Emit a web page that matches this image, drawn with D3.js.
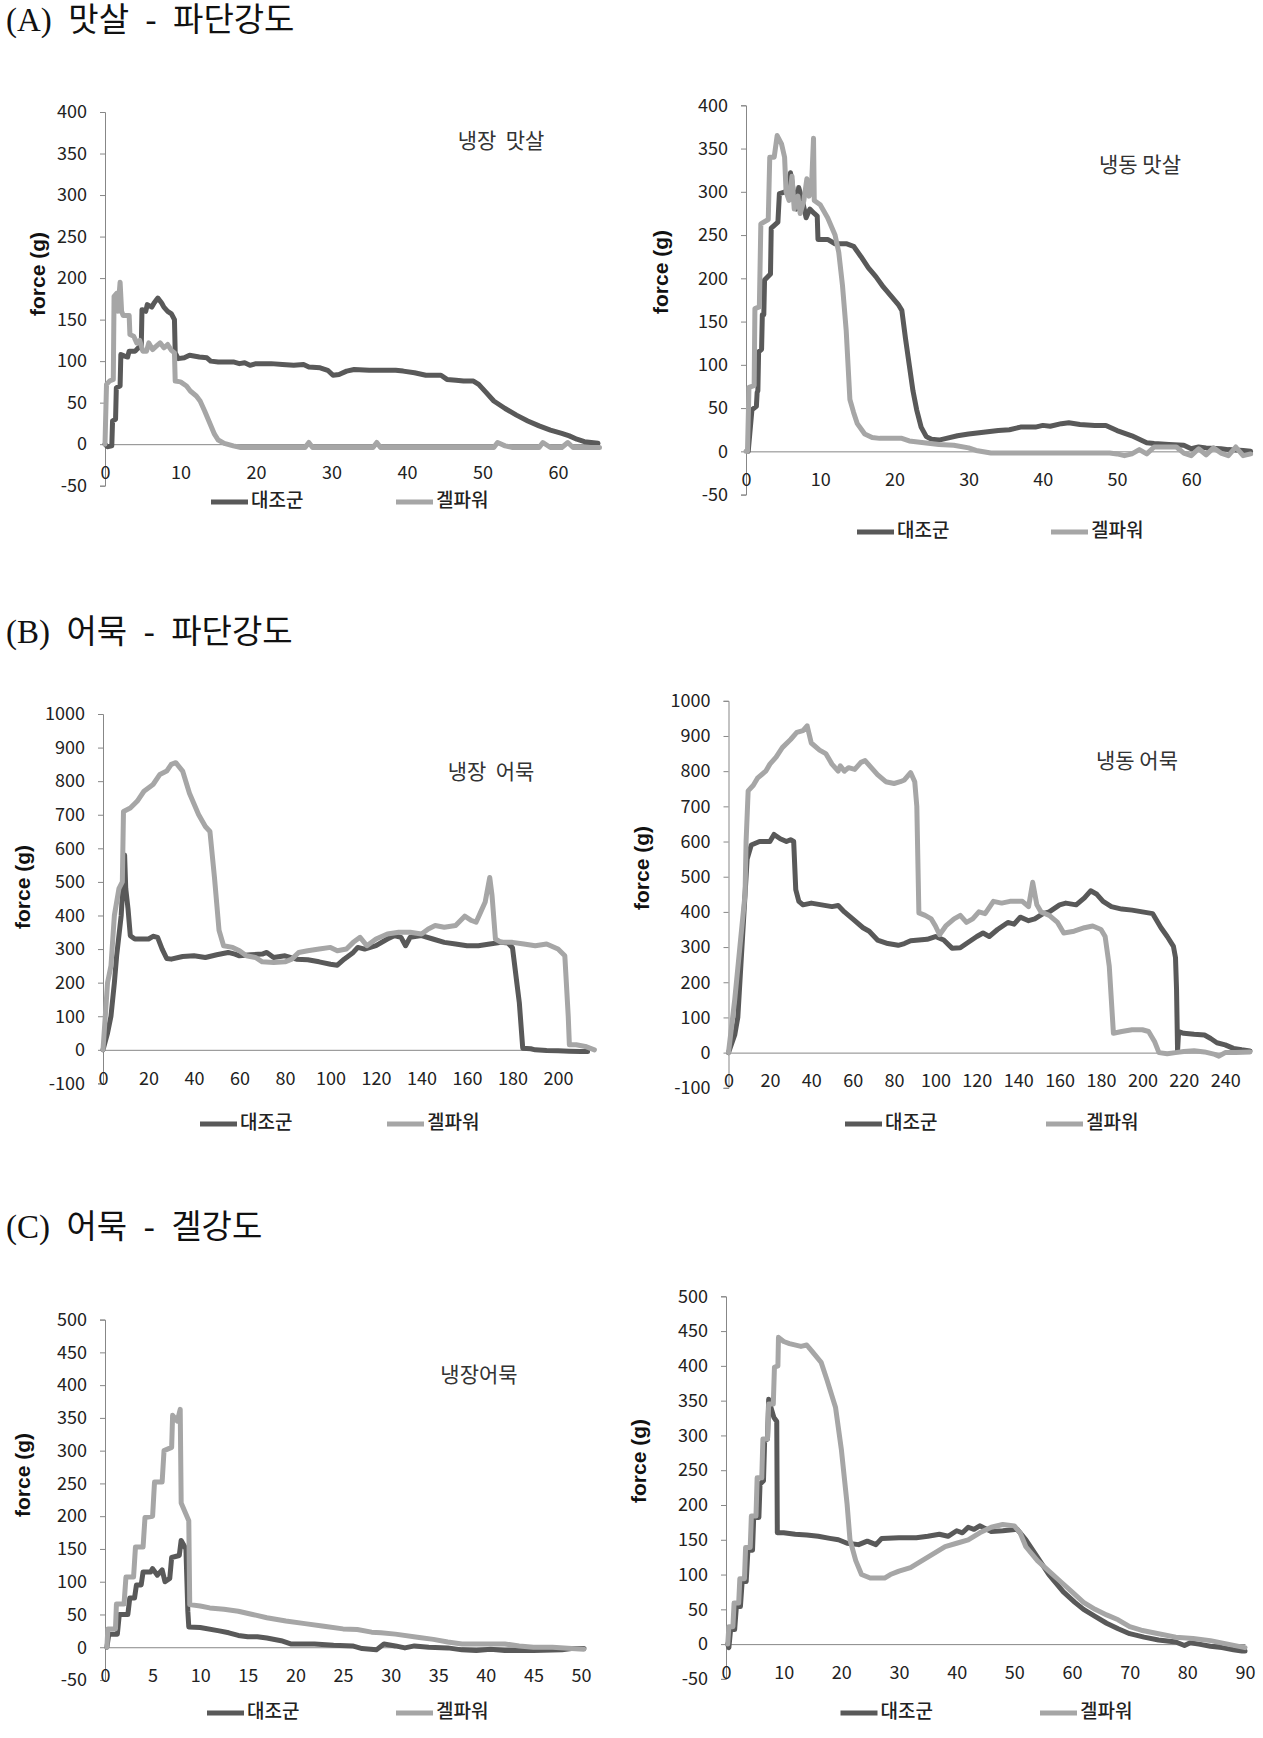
<!DOCTYPE html>
<html><head><meta charset="utf-8">
<script src="https://cdn.jsdelivr.net/npm/d3@7"></script>
<style>body{margin:0;background:#fff}</style>
</head><body>
<svg id="c" width="1263" height="1738"></svg>
<script>
const seriesNames = ["대조군", "겔파워"];
const seriesColors = ["#595959", "#a6a6a6"];
const titles = ["(A)  맛살  -  파단강도", "(B)  어묵  -  파단강도", "(C)  어묵  -  겔강도"];
const notes = ["냉장  맛살", "냉동 맛살", "냉장  어묵", "냉동 어묵", "냉장어묵", ""];
const yLabel = "force (g)";

const yTicksA = [-50, 0, 50, 100, 150, 200, 250, 300, 350, 400];
const yTicksB = [-100, 0, 100, 200, 300, 400, 500, 600, 700, 800, 900, 1000];
const yTicksC = [-50, 0, 50, 100, 150, 200, 250, 300, 350, 400, 450, 500];
const xTicksA = [0, 10, 20, 30, 40, 50, 60];
const xTicksBL = [0, 20, 40, 60, 80, 100, 120, 140, 160, 180, 200];
const xTicksBR = [0, 20, 40, 60, 80, 100, 120, 140, 160, 180, 200, 220, 240];
const xTicksCL = [0, 5, 10, 15, 20, 25, 30, 35, 40, 45, 50];
const xTicksCR = [0, 10, 20, 30, 40, 50, 60, 70, 80, 90];

// (A) 냉장 맛살
const aL_ctrl = [[0,0],[0.3,-3],[0.9,-2],[1.0,28],[1.4,30],[1.5,68],[2.0,70],[2.1,108],[2.6,106],[3.0,105],[3.2,112],[4.0,112],[4.4,116],[4.8,116],[4.9,162],[5.4,160],[5.6,168],[6.2,165],[6.5,170],[7.0,176],[7.5,170],[7.8,165],[8.3,160],[8.8,157],[9.2,150],[9.3,110],[9.7,103],[10.5,104],[11.2,107],[12.5,105],[13.5,104],[14,100],[15,99],[17,99],[17.8,97],[18.5,98],[19.2,95],[20,97],[22,97],[23.5,96],[25,95],[26.3,96],[27,93],[28.5,92],[29.5,89],[30.2,83],[31,84],[32,88],[33,90],[35,89],[38.5,89],[39.5,88],[41,86],[42.5,83],[44.5,83],[45.3,78],[46.5,77],[47.5,76],[48.8,76],[49.5,72],[50.5,62],[51.5,52],[53,43],[54.5,35],[56,28],[57.5,22],[59,17],[60.5,13],[61.5,10],[62.5,6],[63.5,3],[65.3,1]];
const aL_gel = [[0,0],[0.2,72],[0.6,76],[1.1,78],[1.2,178],[1.6,182],[1.7,160],[2.0,195],[2.2,160],[2.4,155],[3.2,155],[3.3,132],[3.8,130],[4.2,122],[4.6,125],[5.0,112],[5.5,112],[5.8,122],[6.3,114],[6.8,118],[7.3,122],[7.8,116],[8.3,120],[8.8,113],[9.2,110],[9.3,76],[10,75],[10.8,70],[11.3,64],[12.1,58],[12.6,52],[13.2,40],[13.8,27],[14.5,12],[15,5],[15.8,1],[17,-2],[18,-4],[26.5,-4],[27,2],[27.5,-4],[35.5,-4],[36,2],[36.5,-4],[51.5,-4],[52,2],[53,-2],[54,-4],[57.5,-4],[58,2],[59,-4],[60.5,-4],[61.3,2],[62,-4],[65.5,-4]];
// (A) 냉동 맛살
const aR_ctrl = [[0.3,0],[0.8,48],[1.4,52],[1.5,68],[1.6,70],[1.7,115],[2.1,118],[2.2,158],[2.4,158],[2.5,198],[3.3,205],[3.4,258],[4.3,265],[4.5,298],[5.3,300],[5.6,305],[6.0,322],[6.4,300],[6.8,280],[7.1,305],[7.6,290],[8.1,270],[8.6,280],[9.2,275],[9.6,272],[9.7,245],[11,245],[12,240],[13.5,240],[14.5,237],[15.5,225],[16.5,212],[17.5,202],[18.5,190],[19.5,180],[20.5,170],[21,163],[21.5,130],[22,100],[22.5,70],[23,48],[23.6,28],[24.3,17],[25,14],[26,13],[27,15],[28.5,18],[30,20],[32,22],[34,24],[35.5,25],[37,28],[39,28],[40,30],[41,29],[42.5,32],[43.5,33],[45,31],[47,30],[48.5,30],[50,24],[52,18],[54,10],[55,9],[57,8],[59,7],[60,3],[61,5],[62,4],[64,3],[65,2],[67,1],[68,0]];
const aR_gel = [[0,0],[0.2,0],[0.4,74],[1.1,76],[1.2,165],[1.8,167],[2.0,263],[3.0,268],[3.2,340],[3.8,340],[4.2,365],[4.8,355],[5.2,340],[5.4,300],[5.8,290],[6.2,318],[6.5,280],[7.0,295],[7.3,275],[7.8,290],[8.2,315],[8.5,295],[8.8,300],[9.1,362],[9.2,290],[10,285],[11,270],[12,250],[12.5,230],[13,192],[13.5,140],[14,60],[14.5,45],[15,32],[16,20],[17,16],[18,15],[21,15],[22,12],[24,10],[26,8],[28,7],[30,4],[31,1],[33,-2],[49,-2],[50,-3],[51,-5],[52,-3],[53,2],[54,-3],[55,5],[58,5],[59,-2],[60,-5],[61,3],[62,-4],[63,4],[64,-2],[65,-5],[66,5],[67,-5],[68,-3]];
// (B) 냉장 어묵
const bL_ctrl = [[0,0],[2,50],[3.5,100],[5,200],[6,280],[8,400],[9.5,580],[10,480],[11,420],[12,340],[14,330],[20,330],[22,338],[24,335],[26,300],[28,272],[30,270],[35,278],[40,280],[45,275],[50,283],[55,290],[58,285],[60,280],[65,283],[70,285],[72,290],[75,275],[80,280],[85,270],[90,268],[95,262],[100,255],[103,252],[106,270],[110,290],[112,305],[115,300],[120,310],[125,330],[128,340],[131,335],[133,310],[135,335],[140,340],[145,330],[150,320],[155,315],[160,310],[165,310],[170,315],[175,320],[178,318],[180,304],[182,194],[183,140],[184.5,5],[188,3],[190,0],[195,-2],[200,-3],[205,-4],[210,-5],[213,-5]];
const bL_gel = [[0,0],[2,200],[3.5,250],[5,400],[7,480],[8.5,500],[9,710],[12,720],[15,740],[18,770],[22,790],[25,820],[28,830],[30,850],[32,855],[35,830],[38,764],[42,701],[45,665],[47,650],[49,513],[51,356],[53,310],[57,305],[60,295],[63,280],[67,275],[70,262],[75,260],[80,262],[83,270],[86,290],[90,295],[95,300],[100,305],[103,295],[107,300],[110,320],[113,335],[116,310],[120,330],[125,345],[130,350],[135,350],[140,345],[143,360],[146,370],[150,365],[155,370],[159,398],[162,385],[164,380],[166,410],[168,440],[170,513],[171,460],[172.5,330],[175,320],[180,320],[185,315],[190,310],[195,315],[200,300],[203,280],[204.5,100],[205,15],[208,15],[212,10],[214,5],[216,0]];
// (B) 냉동 어묵
const bR_ctrl = [[0,0],[3,50],[4.5,100],[6,250],[7.5,400],[9,550],[11,590],[15,600],[20,600],[22,620],[25,608],[28,600],[30,605],[31.5,600],[32.5,463],[34,430],[36,420],[40,425],[45,420],[50,415],[53,418],[56,400],[60,380],[65,355],[68,345],[72,320],[77,310],[82,305],[85,310],[88,318],[92,320],[96,322],[100,330],[104,320],[108,297],[112,298],[115,310],[120,330],[123,340],[126,330],[130,350],[135,370],[138,365],[141,385],[145,375],[148,380],[152,395],[155,400],[160,420],[163,425],[168,420],[172,440],[175,460],[178,450],[181,430],[185,415],[190,408],[195,405],[200,400],[205,395],[209,355],[212,330],[215,302],[216,270],[216.5,180],[217,5],[217.5,60],[220,55],[225,52],[230,50],[233,40],[236,28],[240,22],[244,12],[248,8],[252,5]];
const bR_gel = [[0,0],[3,150],[5.5,300],[8,450],[8.5,600],[9.5,744],[12,760],[14,780],[18,800],[20,820],[23,840],[26,867],[30,890],[33,910],[36,915],[38,929],[40,880],[44,860],[47,850],[50,820],[53,800],[54,815],[56,800],[58,810],[61,805],[64,825],[66,830],[69,810],[72,790],[76,770],[80,765],[83,770],[85,775],[88,796],[90,770],[91,700],[92,397],[95,390],[98,380],[100,360],[102,335],[105,360],[109,380],[112,390],[115,370],[118,380],[121,400],[124,395],[128,430],[132,425],[136,430],[142,430],[145,415],[147,484],[149,420],[151,400],[155,390],[159,370],[162,340],[167,345],[172,355],[176,360],[180,350],[182,330],[184,245],[186,55],[190,60],[195,65],[200,65],[203,60],[206,30],[208,0],[212,-3],[216,0],[220,3],[225,5],[230,2],[235,-5],[237,-10],[240,0],[245,0],[252,2]];
// (C) 냉장 어묵 겔강도
const cL_ctrl = [[0.2,0],[0.4,20],[1.3,20],[1.5,50],[2.4,50],[2.6,75],[3.1,75],[3.3,95],[3.8,95],[4.0,115],[4.8,115],[5.0,120],[5.5,110],[6.0,118],[6.3,100],[6.8,105],[7.0,137],[7.8,140],[8.0,163],[8.5,150],[8.7,55],[8.8,31],[10,30],[12,25],[13,22],[14,18],[15,16],[16,16],[17,14],[18.5,10],[19.5,5],[22,5],[24,3],[26,2],[27,-2],[28.5,-4],[29.3,5],[30.5,2],[31.5,-1],[32.5,2],[34,0],[36,-1],[37.5,-4],[39,-5],[40.5,-3],[42,-5],[45,-5],[48,-4],[49,-2],[50.3,-2]];
const cL_gel = [[0.2,0],[0.3,28],[1.1,28],[1.2,66],[2.0,66],[2.2,107],[3.0,107],[3.2,153],[4.0,153],[4.2,198],[5.0,200],[5.2,252],[6.0,252],[6.2,300],[7.0,305],[7.1,354],[7.6,345],[7.9,363],[8.0,220],[8.8,193],[8.9,65],[10,63],[11,60],[12.5,58],[14,55],[15.5,50],[17,45],[19,40],[21,36],[23,32],[25,28],[26.5,27],[28,23],[29,22],[30.5,20],[33,15],[34.5,12],[36,8],[37.5,5],[42,5],[43.5,2],[45,0],[47,0],[49,-2],[50.3,-3]];
// (C) 냉동 어묵 겔강도
const cR_ctrl = [[0.3,0],[0.5,-5],[0.8,21],[1.5,21],[1.8,54],[2.5,54],[2.8,90],[3.5,90],[3.8,135],[4.6,135],[4.8,182],[5.7,182],[5.9,230],[6.5,235],[6.7,292],[7.2,295],[7.4,352],[7.8,340],[8.3,326],[8.8,320],[8.9,160],[10,160],[12,158],[14,157],[16,155],[18,152],[19.5,150],[21,145],[23,143],[24.5,148],[26,143],[27,152],[30,153],[33,153],[35,155],[37,158],[38.5,155],[40,163],[41,160],[42,168],[43,165],[44,170],[46,162],[48,163],[50.5,165],[52,150],[54,125],[56,100],[58.5,75],[60.5,60],[62,50],[64,40],[66,30],[68,22],[70,15],[72.5,10],[75,6],[78,3],[79.5,-2],[80.5,2],[82,0],[84,-3],[86,-5],[88,-8],[89.5,-10],[90,-10]];
const cR_gel = [[0.3,0],[0.5,25],[1.2,25],[1.4,59],[2.2,59],[2.4,94],[3.2,94],[3.4,139],[4.2,139],[4.4,184],[5.2,184],[5.4,239],[6.2,239],[6.4,295],[7.2,295],[7.4,345],[8.2,345],[8.4,398],[9.0,400],[9.1,441],[10,435],[11,432],[13,428],[14,430],[15,420],[16.5,405],[17.5,380],[19,340],[20,280],[21,201],[21.5,150],[22.5,120],[23.5,100],[25,95],[27.5,95],[28.5,100],[30,105],[32,110],[34,120],[36,130],[38,140],[40,145],[42,150],[44,160],[46,168],[48,172],[50,170],[51,160],[52,140],[54,120],[56,105],[58,90],[60,75],[62,60],[64,50],[66,42],[68,35],[70,25],[72,20],[75,15],[78,10],[81,8],[84,5],[87,0],[90,-5]];

const panels = [
  {series:[aL_ctrl, aL_gel], xMax:65.5, yDom:[-50,400], yTicks:yTicksA, xTicks:xTicksA, x0:105, x1:599.5, yT:112, yB:485.7, note:notes[0], nx:501, ny:142, legY:502, lx1:211, lx2:396, ylx:39, yly:274},
  {series:[aR_ctrl, aR_gel], xMax:68, yDom:[-50,400], yTicks:yTicksA, xTicks:xTicksA, x0:746, x1:1250.6, yT:105.3, yB:494.6, note:notes[1], nx:1140, ny:166, legY:532, lx1:857, lx2:1051, ylx:662, yly:272},
  {series:[bL_ctrl, bL_gel], xMax:216, yDom:[-100,1000], yTicks:yTicksB, xTicks:xTicksBL, x0:103, x1:594.4, yT:714, yB:1083.4, note:notes[2], nx:491, ny:773, legY:1124, lx1:200, lx2:387, ylx:24, yly:887},
  {series:[bR_ctrl, bR_gel], xMax:252, yDom:[-100,1000], yTicks:yTicksB, xTicks:xTicksBR, x0:728.5, x1:1250, yT:700.8, yB:1087.8, note:notes[3], nx:1137, ny:762, legY:1124, lx1:845, lx2:1046, ylx:643, yly:868},
  {series:[cL_ctrl, cL_gel], xMax:50.5, yDom:[-50,500], yTicks:yTicksC, xTicks:xTicksCL, x0:105, x1:585.8, yT:1319.6, yB:1680, note:notes[4], nx:479, ny:1376, legY:1713, lx1:207, lx2:396, ylx:24, yly:1475},
  {series:[cR_ctrl, cR_gel], xMax:90, yDom:[-50,500], yTicks:yTicksC, xTicks:xTicksCR, x0:726, x1:1245, yT:1296.3, yB:1678.9, note:notes[5], nx:0, ny:0, legY:1713, lx1:840.5, lx2:1040, ylx:640, yly:1461}
];
const titleY = [23, 635, 1230];

const svg = d3.select("#c");
const sans = "'Noto Sans CJK KR', 'Noto Sans', sans-serif";
const fmt = d => String(d);

titles.forEach((t, i) => {
  svg.append("text").attr("x", 6).attr("y", titleY[i]).attr("dominant-baseline", "middle")
    .attr("xml:space", "preserve").style("white-space", "pre")
    .attr("font-family", "'Liberation Serif', 'Noto Sans CJK KR', serif").attr("font-size", 33)
    .attr("fill", "#111").text(t);
});

panels.forEach(p => {
  const g = svg.append("g");
  const x = d3.scaleLinear().domain([0, p.xMax]).range([p.x0, p.x1]);
  const y = d3.scaleLinear().domain(p.yDom).range([p.yB, p.yT]);

  // y axis
  const yAxis = d3.axisLeft(y).tickValues(p.yTicks).tickSize(5).tickPadding(13).tickFormat(fmt);
  const ya = g.append("g").attr("transform", `translate(${p.x0},0)`).call(yAxis);
  ya.select(".domain").attr("stroke", "#878787");
  ya.selectAll(".tick line").attr("stroke", "#878787");
  ya.selectAll("text").attr("font-family", sans).attr("font-size", 18).attr("fill", "#222");

  // x axis at zero
  const xAxis = d3.axisBottom(x).tickValues(p.xTicks).tickSize(0).tickPadding(22).tickFormat(fmt);
  const xa = g.append("g").attr("transform", `translate(0,${y(0)})`).call(xAxis);
  xa.select(".domain").attr("stroke", "#878787");
  xa.selectAll("text").attr("font-family", sans).attr("font-size", 18).attr("fill", "#222");

  // lines
  const line = d3.line().x(d => x(d[0])).y(d => y(d[1]));
  p.series.forEach((s, i) => {
    g.append("path").datum(s).attr("d", line).attr("fill", "none")
      .attr("stroke", seriesColors[i]).attr("stroke-width", 5)
      .attr("stroke-linejoin", "round").attr("stroke-linecap", "round");
  });

  // y label
  g.append("text").attr("transform", `translate(${p.ylx},${p.yly}) rotate(-90)`)
    .attr("text-anchor", "middle").attr("dominant-baseline", "middle")
    .attr("font-family", "'Liberation Sans', Arial, sans-serif").attr("font-weight", "bold")
    .attr("font-size", 21).attr("fill", "#111").text(yLabel);

  // annotation
  if (p.note) {
    g.append("text").attr("x", p.nx).attr("y", p.ny).attr("text-anchor", "middle")
      .attr("dominant-baseline", "middle").attr("xml:space", "preserve").style("white-space", "pre")
      .attr("font-family", sans).attr("font-size", 21).attr("fill", "#333").text(p.note);
  }

  // legend
  [p.lx1, p.lx2].forEach((lx, i) => {
    g.append("line").attr("x1", lx).attr("x2", lx + 37).attr("y1", p.legY).attr("y2", p.legY)
      .attr("stroke", seriesColors[i]).attr("stroke-width", 5);
    g.append("text").attr("x", lx + 40).attr("y", p.legY).attr("dominant-baseline", "middle")
      .attr("font-family", sans).attr("font-size", 19).attr("font-weight", 500).attr("fill", "#222").text(seriesNames[i]);
  });
});
</script>
</body></html>
